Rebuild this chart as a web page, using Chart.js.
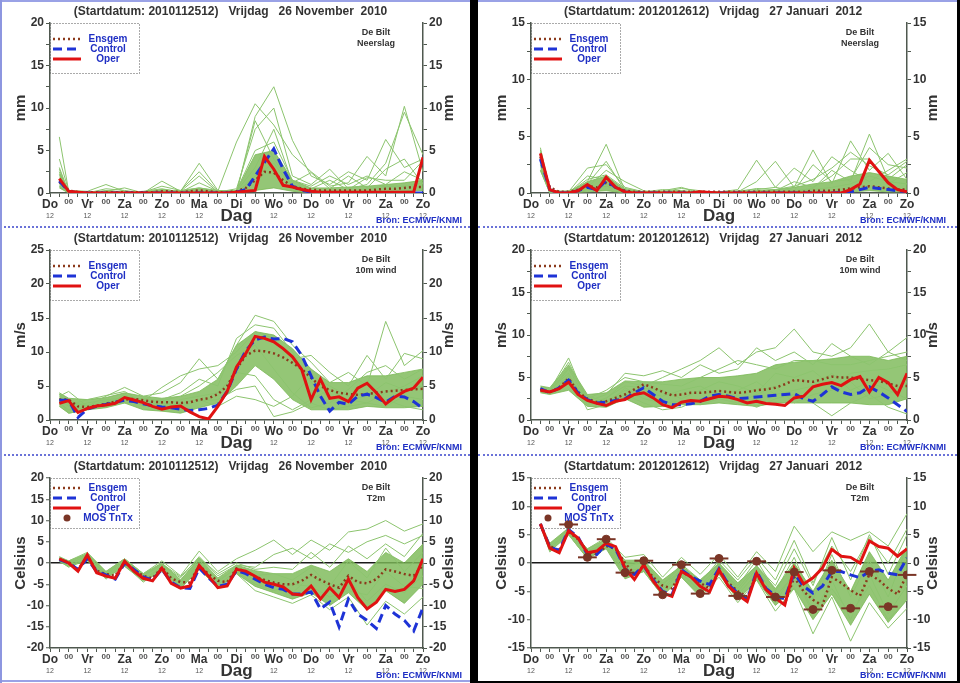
<!DOCTYPE html>
<html>
<head>
<meta charset="utf-8">
<script src="https://cdn.jsdelivr.net/npm/chart.js@4.4.1/dist/chart.umd.min.js"></script>
<style>
  html, body { margin: 0; padding: 0; background: #000; }
  #page { position: relative; width: 960px; height: 683px; background: #000; overflow: hidden; }
  .col { position: absolute; top: 0; background: #fff; }
  canvas { position: absolute; display: block; }
  .hl { position: absolute; height: 0; border-top: 2px dotted #6a72d8; }
  .vl { position: absolute; width: 2px; background: #8d96e0; }
</style>
</head>
<body>
<div id="page">
  <div class="col" style="left:0;width:470px;height:683px"></div>
  <div class="col" style="left:478px;width:479px;height:681px"></div>

  <canvas id="cRainNov" width="470" height="227" style="left:0;top:0"></canvas>
  <canvas id="cRainJan" width="479" height="227" style="left:478px;top:0"></canvas>
  <canvas id="cWindNov" width="470" height="227" style="left:0;top:227px"></canvas>
  <canvas id="cWindJan" width="479" height="227" style="left:478px;top:227px"></canvas>
  <canvas id="cTempNov" width="470" height="228" style="left:0;top:455px"></canvas>
  <canvas id="cTempJan" width="479" height="226" style="left:478px;top:455px"></canvas>

  <div class="hl" style="left:0;top:0;width:470px;border-top-style:solid;border-color:#9aa2e6"></div>
  <div class="hl" style="left:478px;top:0;width:479px;border-top-style:solid;border-color:#9aa2e6"></div>
  <div class="hl" style="left:0;top:226px;width:470px"></div>
  <div class="hl" style="left:478px;top:226px;width:479px"></div>
  <div class="hl" style="left:0;top:454px;width:470px"></div>
  <div class="hl" style="left:478px;top:454px;width:479px"></div>
  <div class="hl" style="left:0;top:680px;width:470px;border-top-style:solid;border-color:#9aa2e6"></div>
  <div class="vl" style="left:0;top:0;height:683px"></div>
</div>

<script>
// fonts and colours
const FONT = "'Liberation Sans', Arial, Helvetica, sans-serif";
const ENS_GREEN = '#8cc46e';
const BAND_GREEN = 'rgba(124,186,88,0.82)';
const ENSGEM_BROWN = '#8b3a1c';
const CONTROL_BLUE = '#1e33d6';
const OPER_RED = '#e01212';
const MOS_BROWN = '#7a3526';
const LEGEND_BLUE = '#1f2fc4';
const TEXT_DARK = '#333';
const AXIS_GREY = '#4f584f';
const MOS_HALF_HOURS = 6;

// x axis: 12-hourly labels, 10 days
const tickLabels = ['Do','00','Vr','00','Za','00','Zo','00','Ma','00','Di','00','Wo','00','Do','00','Vr','00','Za','00','Zo'];

// forecast hours of the main runs (6-hourly) and of the ensemble members (12-hourly)
const hours6 = [6,12,18,24,30,36,42,48,54,60,66,72,78,84,90,96,102,108,114,120,
  126,132,138,144,150,156,162,168,174,180,186,192,198,204,210,216,222,228,234,240];
const hours12 = [6,12,24,36,48,60,72,84,96,108,120,132,144,156,168,180,192,204,216,228,240];

const titleNov = '(Startdatum: 2010112512)   Vrijdag   26 November  2010';
const titleJan = '(Startdatum: 2012012612)   Vrijdag   27 Januari  2012';

// ---------- Neerslag, 26 November 2010 ----------
const rainNovEnsgem = [1.3,0.3,0.1,0.1,0.1,0.1,0.1,0.1,0.1,0.1,0.1,0.2,0.2,0.1,0.2,0.3,0.2,0.1,0.1,0.2,
  0.6,1.5,2.5,2.4,1.5,0.8,0.5,0.4,0.3,0.3,0.3,0.3,0.3,0.3,0.4,0.5,0.5,0.6,0.7,0.7];
const rainNovControl = [1.4,0.2,0,0,0,0,0,0,0,0,0,0,0,0,0,0,0,0,0,0.1,
  0.4,2.0,3.6,5.2,2.8,0.8,0.3,0.1,0,0,0,0,0,0,0,0,0,0,0,0];
const rainNovOper = [1.7,0.2,0.1,0,0,0,0,0,0,0,0,0,0,0,0,0,0,0,0,0.1,
  0.2,0.3,4.3,2.8,0.9,0.7,0.4,0.2,0.1,0.1,0.1,0.1,0.1,0.1,0.1,0.1,0.1,0.1,0.1,4.2];
const rainNovBandLow  = [0.6,0,0,0,0,0,0,0,0,0,0,0.3,0.6,0.2,0,0,0,0,0.1,0.2,0.3];
const rainNovBandHigh = [2.5,0.2,0.1,0.2,0.1,0.1,0.4,0.2,0.6,0.2,0.3,4.5,5.0,1.5,0.6,0.6,0.7,0.8,1.0,1.2,1.5];
const rainNovMembers = [
  [6.6,0.2,0,0.5,0.3,0,1.4,0.2,3.5,0.3,0,9.0,12.5,6.2,2.0,1.0,2.5,1.5,6.3,3.0,4.0],
  [4.0,0.3,0.2,1.0,0.2,0.1,0.8,0.3,2.5,0.2,6.0,10.5,8.0,4.5,2.5,0.8,1.2,4.3,2.0,10.2,2.5],
  [3.0,0.1,0,0.2,0.6,0,0.4,0.2,2.0,0.1,0.5,7.5,10.0,2.0,1.0,2.8,0.5,1.0,3.5,9.5,4.5],
  [2.2,0,0.1,0.1,0,0.2,0.5,0.1,1.2,0.2,0.3,5.0,6.0,1.5,0.8,2.0,1.0,2.0,1.0,2.5,1.5],
  [1.5,0.1,0,0.3,0.1,0,0.2,0.3,0.6,0.3,0.2,3.0,7.5,1.2,2.4,0.5,2.0,0.6,2.8,4.0,1.0],
  [2.8,0,0,0,0.1,0.1,0.3,0,0.4,0,0.1,8.5,4.0,0.8,0.5,1.5,0.4,1.8,1.5,1.5,3.8],
  [0.8,0,0,0,0,0,0.1,0,0.2,0,0,2.0,3.5,0.6,0.3,0.3,0.2,0.5,0.8,0.8,1.2]
];

// ---------- Neerslag, 27 Januari 2012 ----------
const rainJanEnsgem = [3.2,0.5,0.1,0.1,0.3,0.6,0.5,0.9,0.5,0.2,0.1,0.1,0.1,0.1,0.1,0.1,0.1,0.1,0.1,0.1,
  0.1,0.1,0.1,0.1,0.1,0.1,0.1,0.1,0.1,0.2,0.2,0.2,0.3,0.4,0.5,0.6,0.5,0.4,0.3,0.3];
const rainJanControl = [3.0,0.3,0,0,0.2,0.5,0.3,1.1,0.5,0.1,0,0,0,0,0,0,0,0.05,0,0,
  0,0,0,0,0,0,0,0,0,0,0,0,0.05,0.1,0.3,0.5,0.4,0.3,0.2,0.1];
const rainJanOper = [3.5,0.3,0,0,0.2,0.75,0.2,1.4,0.5,0.1,0,0,0,0,0,0,0,0.1,0.05,0,
  0,0,0,0,0,0,0,0,0,0,0,0,0,0.3,0.8,2.9,1.9,0.9,0.3,0.1];
const rainJanBandLow  = [2.0,0,0,0.1,0.2,0,0,0,0,0,0,0,0,0,0,0,0,0.1,0.2,0.1,0.1];
const rainJanBandHigh = [3.6,0.2,0.1,1.0,1.5,0.3,0.1,0.1,0.1,0.1,0.1,0.1,0.2,0.3,0.5,0.8,1.0,1.5,1.8,1.5,1.2];
const rainJanMembers = [
  [4.0,0.3,0,1.0,4.3,0.2,0.1,0.3,0.2,0.1,0.1,0.3,2.9,0.5,0.2,0.4,2.0,1.0,5.2,1.2,2.5],
  [3.6,0.2,0.1,2.2,2.5,0.5,0.1,0.1,0.4,0.2,0,0.1,1.0,2.8,0.5,3.8,0.8,4.6,2.0,3.5,1.2],
  [3.0,0.1,0,0.5,2.0,1.0,0.2,0,0.1,0,0,0.2,0.3,0.5,2.2,1.0,3.2,2.0,1.0,2.0,3.0],
  [2.5,0,0,1.5,1.2,0.3,0,0.2,0.5,0,0.1,0,0.2,0.2,1.0,0.5,1.5,3.0,3.0,0.8,1.8],
  [3.4,0.1,0.2,0.8,2.8,0.2,0.1,0,0.1,0.1,0,0.1,0.1,0.1,0.2,2.5,1.0,1.2,4.0,2.5,2.2],
  [2.0,0,0,0.3,0.6,0.1,0,0.1,0,0,0,0,0,0,0.1,0.3,0.5,0.8,1.5,1.0,0.8],
  [3.8,0.2,0,1.2,1.6,0.4,0.1,0,0.2,0,0.1,0.1,0.4,0.3,0.6,1.2,2.2,3.6,2.4,1.6,2.8]
];

// ---------- 10m wind, 26 November 2010 ----------
const windNovEnsgem = [3.0,3.0,2.0,1.9,2.1,2.4,2.7,3.0,3.1,2.9,2.7,2.6,2.6,2.5,2.6,3.0,3.2,3.8,5.0,7.5,
  9.5,10.2,10.1,9.8,9.2,8.4,7.5,6.2,5.0,4.4,4.0,3.8,3.7,3.8,4.0,4.2,4.3,4.4,4.5,4.6];
const windNovControl = [2.9,2.9,0.4,1.6,2.0,2.3,2.6,2.9,2.7,2.4,2.1,1.9,1.8,1.6,1.4,1.5,1.7,2.2,4.2,7.5,
  10.2,11.8,12.2,11.9,12.0,11.5,9.5,6.5,3.5,1.3,2.6,2.3,3.5,3.8,3.3,2.6,3.5,3.4,2.7,1.7];
const windNovOper = [2.45,2.85,1.1,1.7,2.05,2.2,2.45,3.3,2.95,2.55,2.0,1.6,1.9,2.05,1.2,0.5,0.15,2.0,4.2,7.8,
  9.8,12.3,12.0,11.5,10.5,9.3,7.4,3.0,6.0,3.2,3.4,2.7,4.7,5.4,4.0,2.35,3.4,4.2,4.7,6.3];
const windNovBandLow  = [2.0,1.0,1.5,1.8,2.5,1.5,1.3,1.0,1.8,2.5,5.0,8.0,6.0,3.0,1.5,1.5,1.5,2.0,1.8,1.8,2.0];
const windNovBandHigh = [4.0,3.2,3.0,3.3,4.0,3.5,3.2,3.5,4.2,6.0,11.0,13.0,12.5,10.5,7.5,5.5,5.5,6.5,6.5,7.0,7.5];
const windNovMembers = [
  [3.5,4.2,2.0,3.5,4.8,3.5,4.0,5.5,9.0,6.0,11.0,15.4,14.5,11.0,8.5,5.5,7.0,5.0,14.5,8.0,10.2],
  [3.0,2.0,2.5,3.0,3.2,2.8,4.8,6.5,7.5,8.0,10.0,13.0,12.0,9.0,9.5,7.0,5.0,9.5,6.0,9.8,9.0],
  [2.5,1.5,1.8,2.4,3.5,3.0,2.0,3.0,3.5,4.0,7.0,6.5,3.0,1.5,3.0,4.5,3.0,2.5,4.0,5.0,6.5],
  [3.2,2.5,2.2,2.0,3.8,2.0,2.5,2.0,2.8,3.0,4.5,5.0,0.5,1.2,2.5,1.5,2.0,2.5,2.0,3.5,3.0],
  [2.8,1.0,1.5,2.6,2.5,3.2,2.8,3.5,5.0,7.0,9.5,11.0,7.5,4.0,1.8,2.5,4.5,7.0,8.0,6.0,7.5],
  [2.2,2.8,2.0,2.8,3.0,2.2,1.8,2.5,3.0,2.0,3.5,3.0,2.0,3.5,6.5,5.0,3.5,4.0,3.0,2.0,1.5],
  [3.8,2.2,3.0,3.6,4.2,2.5,3.0,4.0,6.0,5.0,12.0,14.0,13.5,10.0,5.5,3.2,3.0,3.5,5.5,4.5,5.0]
];

// ---------- 10m wind, 27 Januari 2012 ----------
const windJanEnsgem = [3.6,3.3,3.8,4.9,3.3,2.5,2.1,2.2,2.6,3.0,3.6,4.2,3.8,3.3,2.9,3.0,3.2,3.2,3.3,3.4,
  3.3,3.2,3.3,3.5,3.6,3.8,4.2,4.7,4.6,4.5,4.8,5.1,5.0,5.0,4.8,4.7,4.6,4.3,4.0,4.0];
const windJanControl = [3.7,3.2,3.8,4.7,3.2,2.4,2.0,2.1,2.3,2.5,3.2,3.8,3.0,2.2,1.8,1.8,1.9,2.2,2.8,3.0,
  2.8,2.5,2.6,2.7,2.8,2.9,3.0,3.1,2.5,2.2,3.0,3.9,3.3,3.0,3.2,3.9,3.3,2.6,1.8,1.0];
const windJanOper = [3.5,3.3,3.7,4.45,3.0,2.3,1.95,1.7,2.2,2.4,3.0,3.2,2.6,1.8,1.45,2.1,2.3,2.2,2.5,2.8,
  2.7,2.4,2.0,2.2,1.95,1.85,1.7,2.6,2.8,3.9,4.2,4.4,4.05,4.75,5.1,3.3,5.0,4.4,3.0,5.5];
const windJanBandLow  = [3.2,3.0,3.5,1.6,1.5,2.5,1.5,1.6,1.8,1.8,2.0,1.8,1.6,2.0,2.0,2.0,2.0,2.0,1.8,1.8,2.5];
const windJanBandHigh = [4.0,3.8,6.5,3.0,3.2,4.6,4.5,4.5,4.8,5.0,5.0,5.2,5.5,6.5,6.8,7.0,7.2,7.5,7.5,7.0,7.5];
const windJanMembers = [
  [3.6,3.5,7.3,2.0,2.5,4.5,4.0,5.0,6.0,7.0,8.5,6.5,8.0,8.5,10.7,8.0,7.5,8.5,11.3,8.0,9.7],
  [3.4,3.2,6.0,2.2,3.0,5.5,5.2,5.8,5.0,6.5,5.5,6.0,8.5,7.0,8.0,6.5,9.0,7.5,6.5,8.0,7.0],
  [3.8,3.6,5.5,1.2,1.8,3.0,2.0,1.2,1.5,2.5,3.0,2.5,1.5,2.5,3.0,2.0,0.5,2.0,3.0,1.5,0.7],
  [3.5,3.3,6.2,2.8,2.2,3.5,3.2,2.8,3.5,4.0,2.8,3.5,4.5,3.0,3.5,4.0,5.5,3.5,4.5,3.5,2.5],
  [3.3,3.1,4.8,1.8,2.6,4.0,3.8,3.5,2.5,3.5,4.5,4.0,3.2,5.5,5.0,5.8,4.0,5.5,5.8,6.0,6.5],
  [3.7,3.4,6.8,2.5,3.5,5.0,4.5,4.2,4.0,5.0,6.0,7.0,6.5,6.0,7.0,7.0,6.5,6.5,7.0,7.5,8.0],
  [3.5,3.2,5.2,2.2,1.6,3.8,2.5,2.0,2.2,1.8,2.5,2.0,3.0,4.0,2.0,3.0,3.5,4.5,2.5,3.0,4.5]
];

// ---------- T2m, 26 November 2010 ----------
const tempNovEnsgem = [0.8,0.2,-1.5,1.5,-1.8,-2.6,-3.0,0.3,-1.6,-3.0,-3.6,-1.0,-3.6,-4.5,-4.6,-0.6,-2.6,-4.2,-4.5,-1.3,
  -2.0,-3.2,-4.0,-4.6,-5.0,-5.0,-4.2,-2.8,-4.0,-5.0,-5.8,-3.0,-4.5,-4.8,-3.8,-1.5,-2.0,-2.6,-3.0,-0.5];
const tempNovControl = [0.8,0.0,-1.5,1.0,-2.0,-2.8,-3.8,0.0,-1.5,-3.3,-4.0,-1.5,-4.5,-5.8,-6.0,-1.2,-3.5,-5.5,-5.0,-1.8,
  -2.5,-3.8,-5.0,-5.8,-6.2,-7.3,-7.3,-6.8,-10.8,-9.2,-15.0,-8.5,-12.0,-13.5,-15.4,-10.0,-12.0,-13.5,-16.0,-10.5];
const tempNovOper = [1.0,0.0,-1.9,1.9,-2.3,-3.1,-3.6,0.4,-1.9,-3.6,-4.2,-1.2,-4.8,-5.9,-5.4,-0.6,-3.1,-5.8,-5.4,-1.5,
  -1.9,-3.1,-4.5,-5.0,-5.6,-7.3,-7.5,-5.4,-8.5,-5.8,-8.1,-3.8,-8.1,-10.8,-9.2,-6.2,-6.7,-6.2,-4.2,1.0];
const tempNovBandLow  = [0.3,-0.8,0.5,-3.5,-0.8,-4.2,-2.0,-6.0,-1.5,-5.8,-2.5,-5.5,-7.0,-8.5,-7.0,-10.0,-7.0,-11.0,-6.5,-9.5,-5.0];
const tempNovBandHigh = [1.5,0.5,2.2,-2.0,1.0,-2.5,0.0,-4.0,1.2,-3.5,-0.5,-1.8,-2.5,-2.5,-0.5,-2.0,1.0,-2.0,2.5,0.0,4.5];
const tempNovMembers = [
  [1.2,0.5,2.5,-2.0,1.0,-2.5,0.5,-3.0,2.8,-2.0,1.0,3.0,5.4,2.0,5.4,3.0,7.3,8.0,10.0,7.5,9.2],
  [0.8,-0.3,1.8,-2.5,0.5,-3.0,-0.5,-3.5,1.5,-3.0,-0.5,-1.0,2.0,3.5,1.0,4.5,2.5,5.0,6.5,4.5,6.5],
  [0.5,-1.0,1.0,-3.8,-0.5,-4.5,-1.5,-5.5,-1.0,-6.0,-2.5,-6.5,-8.0,-9.5,-7.5,-11.0,-8.0,-14.6,-9.0,-12.0,-8.0],
  [1.0,0.2,2.0,-3.0,0.2,-3.8,-1.0,-4.5,0.0,-4.0,-1.5,-4.0,-5.5,-7.0,-3.0,-6.0,-4.0,-9.0,-5.0,-7.0,-3.0],
  [0.9,0.0,1.5,-2.8,0.8,-3.2,0.0,-4.0,0.8,-4.5,-1.0,-3.0,-2.5,-4.0,-1.0,-5.5,0.5,-3.5,3.5,-2.0,2.5],
  [0.6,-0.6,1.2,-3.3,-0.2,-4.0,-1.2,-5.0,-0.5,-5.0,-2.0,-5.0,-6.5,-5.0,-5.5,-8.0,-6.5,-7.5,-2.0,-5.5,-6.0],
  [1.1,0.3,2.2,-2.2,0.6,-2.8,-0.2,-3.2,1.2,-2.5,0.0,-1.5,-1.0,-1.5,2.5,-1.0,4.0,1.0,4.5,1.5,7.0]
];

// ---------- T2m, 27 Januari 2012 ----------
const tempJanEnsgem = [6.8,3.0,2.2,5.5,4.2,2.0,1.5,3.0,2.5,0.0,-2.0,-0.5,-2.5,-4.0,-4.5,-1.5,-2.5,-3.5,-4.5,-1.5,
  -3.5,-5.0,-6.0,-2.0,-4.5,-6.0,-7.2,-2.5,-5.0,-6.5,-7.5,-2.5,-3.5,-4.8,-5.8,-2.0,-3.0,-4.5,-5.5,-2.0];
const tempJanControl = [6.9,2.8,2.2,5.9,4.6,1.5,1.5,3.3,2.5,-1.0,-2.0,-0.5,-3.0,-5.0,-5.6,-1.2,-2.4,-3.2,-3.8,-1.0,
  -3.8,-5.3,-6.5,-1.5,-4.5,-5.8,-6.3,-1.8,-4.1,-5.3,-4.1,-1.5,-1.5,-2.1,-2.6,-1.5,-1.2,-1.8,-2.1,0.9];
const tempJanOper = [6.9,2.6,1.8,5.7,4.4,1.8,2.1,3.5,2.9,-0.9,-2.9,-0.3,-3.2,-5.3,-5.9,-1.5,-2.4,-4.1,-5.1,-1.2,
  -4.1,-5.6,-6.8,-1.8,-4.7,-6.2,-7.4,-0.9,-3.7,-2.6,-0.9,2.4,1.2,1.0,0.0,3.9,2.9,2.6,1.2,2.5];
const tempJanBandLow  = [6.5,2.0,5.0,0.8,2.5,-2.8,-1.5,-5.8,-2.5,-5.8,-2.0,-6.5,-3.0,-7.5,-4.5,-10.0,-5.5,-11.0,-5.5,-10.5,-6.5];
const tempJanBandHigh = [7.0,3.5,6.2,2.5,4.2,0.5,0.5,-3.0,-0.5,-3.0,0.0,-3.5,-0.5,-4.5,0.0,-5.0,0.5,-5.0,2.0,-3.0,3.0];
const tempJanMembers = [
  [6.8,3.2,6.0,2.5,4.5,1.0,1.5,-2.5,1.0,-2.0,1.5,-2.5,2.0,-1.5,6.5,2.0,5.5,4.0,5.5,3.0,8.7],
  [6.6,2.5,5.5,1.5,3.5,-1.0,0.5,-4.0,-0.5,-3.5,0.5,-3.0,1.0,-3.0,4.0,-3.5,3.0,-1.5,4.5,0.0,6.0],
  [6.9,2.0,5.0,0.8,2.8,-2.5,-1.5,-5.8,-2.5,-6.0,-2.5,-7.0,-3.0,-8.5,-4.5,-12.5,-6.0,-13.8,-7.0,-11.5,-8.0],
  [6.7,2.8,5.8,1.8,3.8,-0.5,0.0,-4.5,-1.0,-4.0,-0.5,-5.0,-1.0,-6.0,-2.0,-9.0,-3.0,-10.0,-2.0,-9.0,-4.0],
  [6.5,3.0,5.2,2.2,3.2,-1.5,-0.8,-3.5,-1.8,-5.0,-1.5,-4.0,0.5,-5.0,1.0,-6.5,1.5,-6.0,0.5,-6.0,3.0],
  [6.8,2.4,5.6,1.2,3.0,-2.0,-1.0,-5.0,-1.2,-4.5,-1.0,-5.5,-2.0,-7.0,-1.5,-8.5,-4.5,-9.0,-4.0,-10.0,-6.5],
  [6.6,2.6,5.4,2.0,3.6,0.0,0.2,-3.8,-0.2,-3.0,-0.2,-4.5,-0.5,-4.0,2.5,-4.0,4.5,-3.0,5.0,-2.0,5.0]
];
// MOS minimum / maximum temperature
const tempJanMosHours  = [24,36,48,60,72,84,96,108,120,132,144,156,168,180,192,204,216,228,240];
const tempJanMosValues = [6.8,1.0,4.2,-1.7,0.4,-5.6,-0.3,-5.4,0.8,-5.8,0.3,-6.0,-1.6,-8.2,-1.3,-8.0,-1.5,-7.7,-2.1];

// helpers
const pairs = (xs, ys) => ys.map((y, i) => ({ x: xs[i], y: y }));

// draws the titles, legend box, axis titles and the MOS bars
const panelDeco = {
  id: 'panelDeco',
  beforeDatasetDraw(chart, args) {
    const ds = chart.data.datasets[args.index];
    if (!ds.mosBars) return;
    const ctx = chart.ctx, xs = chart.scales.x, ys = chart.scales.y;
    ctx.save();
    ctx.strokeStyle = MOS_BROWN;
    ctx.lineWidth = 2;
    ds.data.forEach(d => {
      const y = ys.getPixelForValue(d.y);
      ctx.beginPath();
      ctx.moveTo(xs.getPixelForValue(d.x - MOS_HALF_HOURS), y);
      ctx.lineTo(xs.getPixelForValue(d.x + MOS_HALF_HOURS), y);
      ctx.stroke();
    });
    ctx.restore();
  },
  afterDraw(chart, args, o) {
    const ctx = chart.ctx, a = chart.chartArea, xs = chart.scales.x;
    const midX = (a.left + a.right) / 2;
    ctx.save();
    ctx.textAlign = 'center';
    ctx.textBaseline = 'middle';

    // title
    ctx.fillStyle = TEXT_DARK;
    ctx.font = `bold 12px ${FONT}`;
    ctx.fillText(o.title, midX - 6, 12);

    // axis titles
    ctx.font = `bold 15px ${FONT}`;
    [a.left - 29, a.right + 26].forEach(x => {
      ctx.save();
      ctx.translate(x, (a.top + a.bottom) / 2);
      ctx.rotate(-Math.PI / 2);
      ctx.fillText(o.unit, 0, 0);
      ctx.restore();
    });

    // station / variable
    ctx.font = `bold 9px ${FONT}`;
    ctx.fillText('De Bilt', a.right - 47, a.top + 10);
    ctx.fillText(o.variable, a.right - 47, a.top + 21);

    // "12" under each day label
    ctx.font = `7px ${FONT}`;
    ctx.fillStyle = '#555';
    tickLabels.forEach((t, i) => {
      if (t === '00' || i === 10) return;
      ctx.fillText('12', xs.getPixelForValue(i * 12), a.bottom + 23);
    });

    // Dag
    ctx.fillStyle = TEXT_DARK;
    ctx.font = `bold 17px ${FONT}`;
    ctx.fillText('Dag', midX, a.bottom + 23);

    // source
    ctx.fillStyle = LEGEND_BLUE;
    ctx.font = `bold 9px ${FONT}`;
    ctx.textAlign = 'right';
    ctx.fillText('Bron: ECMWF/KNMI', a.right + 39, a.bottom + 28);

    // legend box
    const lx = a.left, ly = a.top, lw = 89, lh = 50;
    ctx.setLineDash([1, 2]);
    ctx.strokeStyle = '#555';
    ctx.lineWidth = 1;
    ctx.strokeRect(lx + 0.5, ly + 0.5, lw, lh);
    const items = [
      { label: 'Ensgem', color: ENSGEM_BROWN, width: 2.5, dash: [2, 3] },
      { label: 'Control', color: CONTROL_BLUE, width: 3, dash: [9, 5] },
      { label: 'Oper', color: OPER_RED, width: 3, dash: [] }
    ];
    if (o.mosLegend) items.push({ label: 'MOS TnTx', dot: true });
    const rowYs = o.mosLegend ? [10, 20, 30, 40] : [16, 26, 36];
    ctx.textAlign = 'center';
    ctx.font = `bold 10px ${FONT}`;
    items.forEach((it, i) => {
      const y = ly + rowYs[i];
      if (it.dot) {
        ctx.fillStyle = MOS_BROWN;
        ctx.beginPath();
        ctx.arc(lx + 17, y, 3.5, 0, Math.PI * 2);
        ctx.fill();
      } else {
        ctx.strokeStyle = it.color;
        ctx.lineWidth = it.width;
        ctx.setLineDash(it.dash);
        ctx.beginPath();
        ctx.moveTo(lx + 3, y);
        ctx.lineTo(lx + 31, y);
        ctx.stroke();
      }
      ctx.fillStyle = LEGEND_BLUE;
      ctx.fillText(it.label, lx + 58, y);
    });
    ctx.restore();
  }
};

function drawPanel(p) {
  const canvas = document.getElementById(p.canvas);
  const H = canvas.height;
  const PLOT_TOP = 23, PLOT_H = 170;

  const datasets = [
    { data: pairs(hours12, p.bandLow), borderColor: BAND_GREEN, borderWidth: 1, fill: false, order: 30 },
    { data: pairs(hours12, p.bandHigh), borderColor: BAND_GREEN, borderWidth: 1, backgroundColor: BAND_GREEN, fill: '-1', order: 29 }
  ];
  p.members.forEach(m => datasets.push({ data: pairs(hours12, m), borderColor: ENS_GREEN, borderWidth: 1, fill: false, order: 20 }));
  datasets.push({ data: pairs(hours6, p.ensgem), borderColor: ENSGEM_BROWN, borderWidth: 2.5, borderDash: [2, 3], fill: false, order: 3 });
  datasets.push({ data: pairs(hours6, p.control), borderColor: CONTROL_BLUE, borderWidth: 3, borderDash: [9, 5], fill: false, order: 2 });
  datasets.push({ data: pairs(hours6, p.oper), borderColor: OPER_RED, borderWidth: 3, fill: false, order: 1 });
  if (p.mosValues) {
    datasets.push({ type: 'scatter', data: pairs(p.mosHours, p.mosValues), backgroundColor: MOS_BROWN,
      borderColor: MOS_BROWN, pointRadius: 4, showLine: false, order: 0, mosBars: true });
  }

  const yTicks = [];
  for (let v = p.min; v <= p.max + 1e-9; v += 2.5) yTicks.push(v);
  const xTicks = tickLabels.flatMap((t, i) => (i < tickLabels.length - 1 ? [i * 12, i * 12 + 6] : [i * 12]));

  const yAxis = (position, width, zero) => ({
    type: 'linear', position: position, min: p.min, max: p.max,
    afterBuildTicks: s => { s.ticks = yTicks.map(v => ({ value: v })); },
    afterFit: s => { s.width = width; },
    ticks: {
      callback: v => (Math.abs(v % 5) < 1e-6 ? String(v) : ''),
      font: { family: FONT, size: 12, weight: 'bold' }, color: TEXT_DARK, padding: 2
    },
    grid: zero ? {
      drawOnChartArea: true,
      color: c => (c.tick && c.tick.value === 0 ? '#1a1a1a' : 'rgba(0,0,0,0)'),
      lineWidth: 1.5, tickColor: AXIS_GREY, tickWidth: 1, tickLength: 4
    } : { drawOnChartArea: false, color: AXIS_GREY, tickWidth: 1, tickLength: 4 },
    border: { color: AXIS_GREY, width: 1.5 }
  });

  new Chart(canvas, {
    type: 'line',
    data: { datasets: datasets },
    options: {
      responsive: false,
      animation: false,
      events: [],
      layout: { padding: { top: PLOT_TOP, left: 0, right: 0, bottom: 0 } },
      elements: { line: { tension: 0 }, point: { radius: 0 } },
      plugins: {
        legend: { display: false },
        tooltip: { enabled: false },
        panelDeco: { title: p.title, unit: p.unit, variable: p.variable, mosLegend: p.mosLegend }
      },
      scales: {
        x: {
          type: 'linear', min: 0, max: 240,
          afterBuildTicks: s => { s.ticks = xTicks.map(v => ({ value: v })); },
          afterFit: s => { s.height = H - PLOT_TOP - PLOT_H; },
          ticks: {
            autoSkip: false, maxRotation: 0, padding: 0,
            callback: v => (v % 12 === 0 ? tickLabels[v / 12] : ''),
            font: c => ({ family: FONT, weight: 'bold', size: (c.tick && c.tick.value % 24 === 12) ? 8 : 12 }),
            color: c => ((c.tick && c.tick.value % 24 === 12) ? '#555' : TEXT_DARK)
          },
          grid: { drawOnChartArea: false, color: AXIS_GREY, tickWidth: 1, tickLength: 4 },
          border: { color: AXIS_GREY, width: 1.5 }
        },
        y: yAxis('left', p.axisL, p.zeroLine),
        y2: yAxis('right', p.axisR, false)
      }
    },
    plugins: [panelDeco]
  });
}

drawPanel({ canvas: 'cRainNov', title: titleNov, variable: 'Neerslag', unit: 'mm', min: 0, max: 20, axisL: 50, axisR: 47,
  bandLow: rainNovBandLow, bandHigh: rainNovBandHigh, members: rainNovMembers,
  ensgem: rainNovEnsgem, control: rainNovControl, oper: rainNovOper });
drawPanel({ canvas: 'cRainJan', title: titleJan, variable: 'Neerslag', unit: 'mm', min: 0, max: 15, axisL: 53, axisR: 50,
  bandLow: rainJanBandLow, bandHigh: rainJanBandHigh, members: rainJanMembers,
  ensgem: rainJanEnsgem, control: rainJanControl, oper: rainJanOper });
drawPanel({ canvas: 'cWindNov', title: titleNov, variable: '10m wind', unit: 'm/s', min: 0, max: 25, axisL: 50, axisR: 47,
  bandLow: windNovBandLow, bandHigh: windNovBandHigh, members: windNovMembers,
  ensgem: windNovEnsgem, control: windNovControl, oper: windNovOper });
drawPanel({ canvas: 'cWindJan', title: titleJan, variable: '10m wind', unit: 'm/s', min: 0, max: 20, axisL: 53, axisR: 50,
  bandLow: windJanBandLow, bandHigh: windJanBandHigh, members: windJanMembers,
  ensgem: windJanEnsgem, control: windJanControl, oper: windJanOper });
drawPanel({ canvas: 'cTempNov', title: titleNov, variable: 'T2m', unit: 'Celsius', min: -20, max: 20, axisL: 50, axisR: 47,
  zeroLine: true, mosLegend: true,
  bandLow: tempNovBandLow, bandHigh: tempNovBandHigh, members: tempNovMembers,
  ensgem: tempNovEnsgem, control: tempNovControl, oper: tempNovOper });
drawPanel({ canvas: 'cTempJan', title: titleJan, variable: 'T2m', unit: 'Celsius', min: -15, max: 15, axisL: 53, axisR: 50,
  zeroLine: true, mosLegend: true,
  bandLow: tempJanBandLow, bandHigh: tempJanBandHigh, members: tempJanMembers,
  ensgem: tempJanEnsgem, control: tempJanControl, oper: tempJanOper,
  mosHours: tempJanMosHours, mosValues: tempJanMosValues });
</script>
</body>
</html>
